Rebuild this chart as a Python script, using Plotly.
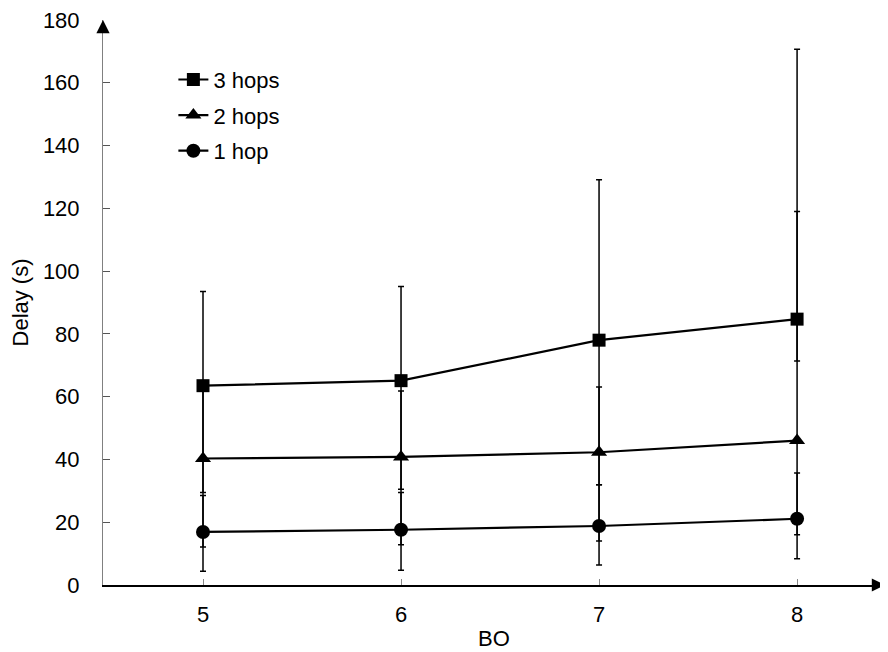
import plotly.graph_objects as go

bo = [5, 6, 7, 8]
x_ticks = ["5", "6", "7", "8"]
y_ticks = [0, 20, 40, 60, 80, 100, 120, 140, 160, 180]

hops3 = [63.5, 65.1, 78.0, 84.7]
hops3_hi = [93.5, 95.1, 129.1, 170.7]
hops3_lo = [29.5, 30.5, 31.9, 71.4]

hops2 = [40.3, 40.8, 42.3, 46.0]
hops2_hi = [62.5, 61.8, 63.1, 119.0]
hops2_lo = [12.1, 12.8, 14.0, 16.0]

hops1 = [16.9, 17.6, 18.8, 21.1]
hops1_hi = [28.5, 29.5, 31.9, 35.7]
hops1_lo = [4.4, 4.7, 6.4, 8.4]

series = [
    ("3 hops", hops3, hops3_hi, hops3_lo, "square", 13),
    ("2 hops", hops2, hops2_hi, hops2_lo, "triangle-up", 14),
    ("1 hop", hops1, hops1_hi, hops1_lo, "circle", 14),
]

FONT = "Liberation Sans, Arial, sans-serif"
FS = 22

fig = go.Figure()
for name, mean, hi, lo, sym, sz in series:
    fig.add_trace(go.Scatter(
        x=bo, y=mean, name=name, mode="lines+markers",
        legendgroup=name,
        line=dict(color="black", width=2.2),
        marker=dict(symbol=sym, size=sz, color="black"),
        error_y=dict(
            type="data", symmetric=False,
            array=[h - m for h, m in zip(hi, mean)],
            arrayminus=[m - l for m, l in zip(mean, lo)],
            color="black", thickness=1.5, width=3,
        ),
        cliponaxis=False,
    ))

# page body has an 8px margin, so the figure is 8px smaller and margins shifted
fig.update_layout(
    width=880, height=644,
    margin=dict(l=95, r=3, t=12, b=67, autoexpand=False),
    paper_bgcolor="white", plot_bgcolor="white",
    font=dict(family=FONT, size=FS, color="black"),
    showlegend=True,
    legend=dict(
        x=0.09, y=0.9315, xanchor="left", yanchor="top",
        bgcolor="rgba(0,0,0,0)", font=dict(size=FS),
        tracegroupgap=4, itemwidth=30,
    ),
    xaxis=dict(
        range=[4.495, 8.444], tickvals=bo, ticktext=x_ticks,
        showline=True, linecolor="black", linewidth=1.5,
        ticks="inside", ticklen=6, tickcolor="#888", tickwidth=1,
        showgrid=False, zeroline=False, automargin=False,
        title=dict(text="BO", standoff=4, font=dict(size=FS)),
        ticklabelstandoff=9,
    ),
    yaxis=dict(
        range=[0, 180], tickvals=y_ticks,
        showline=True, linecolor="#808080", linewidth=1,
        ticks="inside", ticklen=7, tickcolor="#555", tickwidth=1,
        showgrid=False, zeroline=False, automargin=False,
        ticklabeloverflow="allow",
        title=dict(text="Delay (s)", standoff=11, font=dict(size=FS)),
        ticklabelstandoff=18,
    ),
    annotations=[
        dict(x=0, y=1, xref="paper", yref="paper", text="", showarrow=True,
             ax=0, ay=14, arrowhead=2, arrowsize=2.2, arrowwidth=1.2,
             arrowcolor="black"),
        dict(x=1, y=0, xref="paper", yref="paper", text="", showarrow=True,
             ax=-14, ay=0, arrowhead=2, arrowsize=2.2, arrowwidth=1.2,
             arrowcolor="black"),
    ],
)

fig.write_html("out.html")
